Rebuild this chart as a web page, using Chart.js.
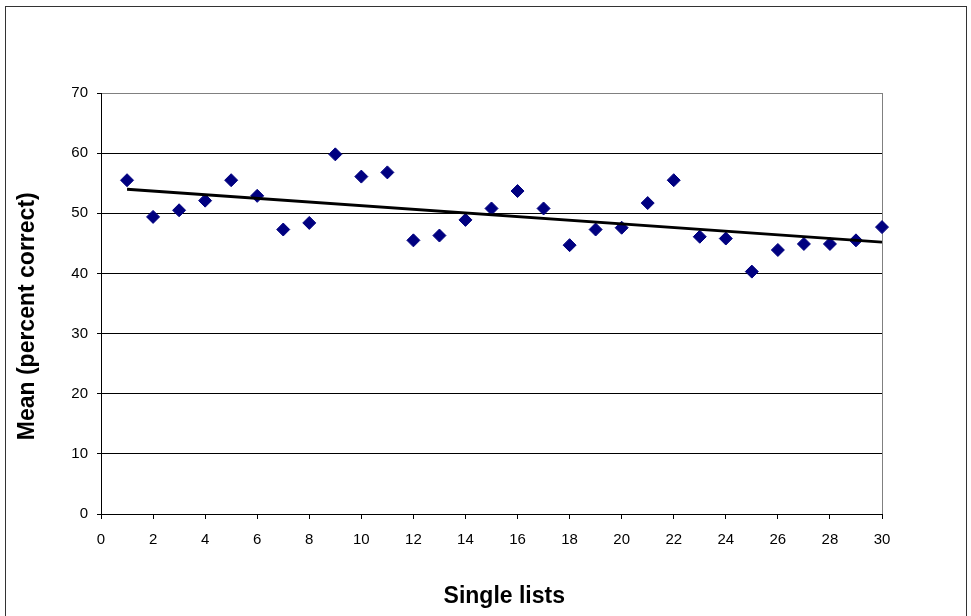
<!DOCTYPE html>
<html>
<head>
<meta charset="utf-8">
<script src="https://cdn.jsdelivr.net/npm/chart.js@4/dist/chart.umd.min.js"></script>
<style>
  html, body { margin: 0; padding: 0; background: #fff; }
  #wrap { position: relative; width: 971px; height: 616px; }
  #frame { position: absolute; left: 5px; top: 6px; width: 962px; height: 640px; border: 1.5px solid #333; box-sizing: border-box; pointer-events: none; }
  canvas { position: absolute; left: 0; top: 0; }
</style>
</head>
<body>
<div id="wrap">
  <canvas id="c" width="971" height="616"></canvas>
  <div id="frame"></div>
</div>
<script>
// Data
const listNumbers = [1,2,3,4,5,6,7,8,9,10,11,12,13,14,15,16,17,18,19,20,21,22,23,24,25,26,27,28,29,30];
const meanPercentCorrect = [55.5,49.4,50.5,52.1,55.5,52.9,47.3,48.4,59.8,56.1,56.8,45.5,46.3,48.9,50.8,53.7,50.8,44.7,47.3,47.6,51.7,55.5,46.1,45.8,40.3,43.9,44.9,44.9,45.5,47.7];
const trendX = [1, 30];
const trendY = [54.0, 45.2];
const xTicksMinMax = [0, 30];
const yTicksMinMax = [0, 70];
const xTitle = 'Single lists';
const yTitle = 'Mean (percent correct)';

const points = listNumbers.map((x, i) => ({ x: x, y: meanPercentCorrect[i] }));
const trend = trendX.map((x, i) => ({ x: x, y: trendY[i] }));

const FONT = "'Liberation Sans', Arial, sans-serif";

new Chart(document.getElementById('c'), {
  type: 'scatter',
  data: {
    datasets: [
      {
        label: 'Mean',
        data: points,
        pointStyle: 'rectRot',
        pointRadius: 6.5,
        pointHoverRadius: 6.5,
        backgroundColor: '#000080',
        borderColor: '#000080',
        borderWidth: 1,
        clip: false,
        order: 1
      },
      {
        label: 'Trend',
        type: 'line',
        data: trend,
        borderColor: '#000000',
        borderWidth: 2.8,
        pointRadius: 0,
        fill: false,
        order: 0
      }
    ]
  },
  options: {
    responsive: false,
    animation: false,
    events: [],
    layout: { padding: { left: 0, top: 93, right: 89, bottom: 0 } },
    plugins: { legend: { display: false }, tooltip: { enabled: false } },
    scales: {
      x: {
        type: 'linear',
        min: xTicksMinMax[0],
        max: xTicksMinMax[1],
        ticks: { stepSize: 2, color: '#000', font: { family: FONT, size: 15 }, padding: 12, maxRotation: 0 },
        grid: {
          color: (ctx) => (ctx.tick && ctx.tick.value === 30) ? '#808080' : 'rgba(0,0,0,0)',
          tickColor: '#000',
          tickLength: 5,
          drawOnChartArea: true
        },
        border: { display: true, color: '#000', width: 1 },
        title: {
          display: true,
          text: '    ' + xTitle,
          color: '#000',
          font: { family: FONT, size: 23, weight: 'bold' },
          padding: { top: 0, bottom: 5.5 }
        },
        afterFit: (scale) => { scale.height = 102; }
      },
      y: {
        type: 'linear',
        min: yTicksMinMax[0],
        max: yTicksMinMax[1],
        ticks: { stepSize: 10, color: '#000', font: { family: FONT, size: 15 }, padding: 9 },
        grid: {
          color: (ctx) => (ctx.tick && ctx.tick.value === 70) ? '#808080' : '#000',
          tickColor: '#000',
          tickLength: 4
        },
        border: { display: true, color: '#000', width: 1 },
        title: {
          display: true,
          text: yTitle + '    ',
          color: '#000',
          font: { family: FONT, size: 23, weight: 'bold' },
          padding: { top: 14, bottom: 0 }
        },
        afterFit: (scale) => { scale.width = 101; }
      }
    }
  }
});
</script>
</body>
</html>
